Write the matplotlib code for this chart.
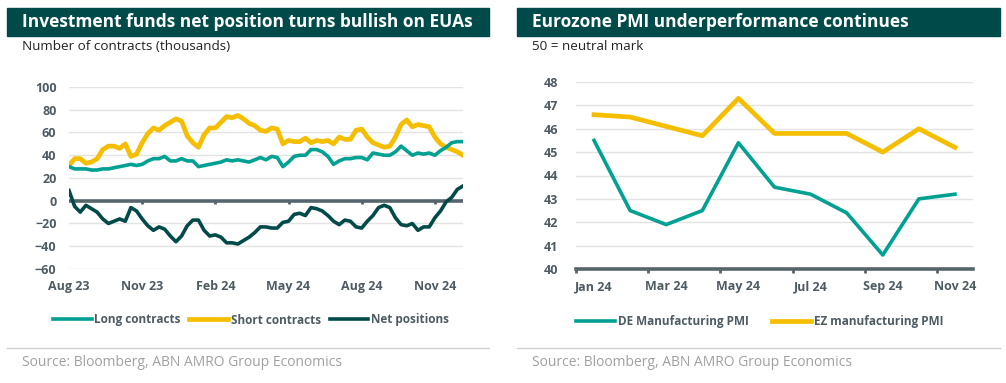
import numpy as np
import matplotlib
matplotlib.use("Agg")
import matplotlib.pyplot as plt
from matplotlib.patches import Rectangle

plt.rcParams['font.family'] = ['Open Sans', 'DejaVu Sans']

# --- Datos: posiciones de fondos (miles de contratos), semanal ago-23 a dic-24 ---
long_contracts = [30, 28, 28, 28, 27, 27, 28, 28, 29, 30, 31, 32, 31, 32, 35, 37, 37, 39,
                  35, 35, 37, 35, 35, 30, 31, 32, 33, 34, 36, 35, 36, 35, 34, 36, 38, 36,
                  39, 38, 30, 34, 39, 40, 40, 45, 45, 43, 39, 32, 35, 37, 37, 38, 38, 36,
                  42, 41, 40, 40, 43, 48, 44, 40, 42, 41, 42, 40, 44, 47, 51, 52, 52]
short_contracts = [31, 37, 37, 33, 34, 37, 45, 48, 48, 46, 50, 39, 41, 51, 59, 64, 62, 66,
                   69, 72, 70, 57, 51, 47, 58, 64, 64, 69, 74, 73, 75, 72, 68, 66, 62, 61,
                   64, 63, 50, 53, 52, 52, 55, 51, 53, 52, 53, 50, 56, 54, 54, 62, 63, 56,
                   51, 49, 47, 48, 56, 67, 71, 65, 67, 66, 65, 56, 50, 47, 45, 43, 40]
net_positions = [9, -5, -10, -4, -7, -10, -16, -20, -18, -16, -18, -6, -9, -16, -22, -26,
                 -23, -25, -31, -36, -31, -22, -17, -17, -26, -31, -30, -32, -37, -37, -38,
                 -35, -32, -28, -23, -23, -24, -24, -19, -18, -12, -11, -13, -6, -7, -9,
                 -13, -18, -21, -17, -18, -23, -24, -18, -13, -6, -4, -6, -15, -21, -22,
                 -20, -26, -23, -23, -15, -9, -1, 3, 10, 13]
semanas_ticks = [0, 13, 26, 39, 52, 65]
semanas_labels = ["Aug 23", "Nov 23", "Feb 24", "May 24", "Aug 24", "Nov 24"]

# --- Datos: PMI manufacturero mensual ene-24 a nov-24 ---
meses = ["Jan 24", "Feb 24", "Mar 24", "Apr 24", "May 24", "Jun 24",
         "Jul 24", "Aug 24", "Sep 24", "Oct 24", "Nov 24"]
de_pmi = [45.5, 42.5, 41.9, 42.5, 45.4, 43.5, 43.2, 42.4, 40.6, 43.0, 43.2]
ez_pmi = [46.6, 46.5, 46.1, 45.7, 47.3, 45.8, 45.8, 45.8, 45.0, 46.0, 45.2]

# --- Colores ---
TEAL = "#00A093"
YELLOW = "#F5BE00"
DARK = "#004B4A"
AXGRAY = "#56646C"
GRID = "#E3E3E3"
TXT = "#4E5B63"

W, H = 1006, 383
fig = plt.figure(figsize=(W / 100, H / 100), dpi=100)


def rect(x0, y0, x1, y1):
    # caja en pixeles (origen arriba-izquierda) -> fraccion de figura
    return [x0 / W, 1 - y1 / H, (x1 - x0) / W, (y1 - y0) / H]


def fxy(x, y):
    return x / W, 1 - y / H


# --- Encabezados ---
for (x0, x1, titulo, sub) in [(7, 489, "Investment funds net position turns bullish on EUAs",
                               "Number of contracts (thousands)"),
                              (517, 1000, "Eurozone PMI underperformance continues",
                               "50 = neutral mark")]:
    fig.patches.append(Rectangle(fxy(x0, 36), (x1 - x0) / W, 28 / H,
                                 transform=fig.transFigure, color=DARK, zorder=0))
    fig.text(*fxy(x0 + 15, 22), titulo, color="white", fontsize=12.5, fontweight="bold",
             va="center", ha="left")
    fig.text(*fxy(x0 + 15, 47), sub, color="#222222", fontsize=9.7, va="center", ha="left")
    fig.add_artist(plt.Line2D([x0 / W, x1 / W], [1 - 348 / H] * 2, color="#CFCFCF",
                              lw=0.9, transform=fig.transFigure))
    fig.text(*fxy(x0 + 15, 362), "Source: Bloomberg, ABN AMRO Group Economics",
             color="#A0A0A0", fontsize=10, va="center", ha="left")


def estilo(ax):
    for s in ax.spines.values():
        s.set_visible(False)
    ax.tick_params(axis="both", length=0, labelsize=9, labelcolor=TXT)
    for lab in ax.get_xticklabels() + ax.get_yticklabels():
        lab.set_fontweight("bold")


# --- Panel izquierdo ---
ax1 = fig.add_axes(rect(69, 87, 463, 269))
x = np.arange(len(long_contracts))
ax1.set_xlim(0, len(long_contracts) - 1)
ax1.set_ylim(-60, 100)
ax1.set_yticks(range(-60, 101, 20))
for yv in range(-60, 101, 20):
    if yv != 0:
        ax1.axhline(yv, color=GRID, lw=1, zorder=0)
ax1.axhline(0, color=AXGRAY, lw=2.6, zorder=1)
ax1.vlines(semanas_ticks[1:], -3.2, 0, color=AXGRAY, lw=2, zorder=1)
ax1.plot(x, long_contracts, color=TEAL, lw=2.6, label="Long contracts", zorder=3)
ax1.plot(x, short_contracts, color=YELLOW, lw=3.4, label="Short contracts", zorder=2)
ax1.plot(x, net_positions, color=DARK, lw=2.6, label="Net positions", zorder=4)
ax1.set_xticks(semanas_ticks)
ax1.set_xticklabels(semanas_labels)
ax1.tick_params(axis="x", pad=8)
ax1.tick_params(axis="y", pad=9)
estilo(ax1)
ax1.legend(loc="center", bbox_to_anchor=fxy(251, 320), bbox_transform=fig.transFigure,
           ncol=3, frameon=False, handlelength=3.3, handletextpad=0.25,
           columnspacing=0.7, prop={"weight": "bold", "size": 8.5}, labelcolor=TXT)

# --- Panel derecho ---
ax2 = fig.add_axes(rect(576, 82, 973, 269))
xm = np.arange(len(meses))
ax2.set_xlim(-0.5, len(meses) - 0.5)
ax2.set_ylim(40, 48)
for yv in range(41, 49):
    ax2.axhline(yv, color=GRID, lw=1, zorder=0)
ax2.axhline(40, color=AXGRAY, lw=2.6, zorder=1, clip_on=False)
ax2.vlines(np.arange(-0.5, len(meses), 2), 39.85, 40, color=AXGRAY, lw=2, zorder=1,
           clip_on=False)
ax2.plot(xm, de_pmi, color=TEAL, lw=2.6, label="DE Manufacturing PMI", zorder=3)
ax2.plot(xm, ez_pmi, color=YELLOW, lw=3.4, label="EZ manufacturing PMI", zorder=2)
ax2.set_yticks(range(40, 49))
ax2.set_xticks(xm[::2])
ax2.set_xticklabels(meses[::2])
ax2.tick_params(axis="x", pad=8)
ax2.tick_params(axis="y", pad=13)
estilo(ax2)
ax2.legend(loc="center", bbox_to_anchor=fxy(760, 322), bbox_transform=fig.transFigure,
           ncol=2, frameon=False, handlelength=3.3, handletextpad=0.25,
           columnspacing=2.0, prop={"weight": "bold", "size": 8.5}, labelcolor=TXT)

fig.savefig("out.png", dpi=100)
